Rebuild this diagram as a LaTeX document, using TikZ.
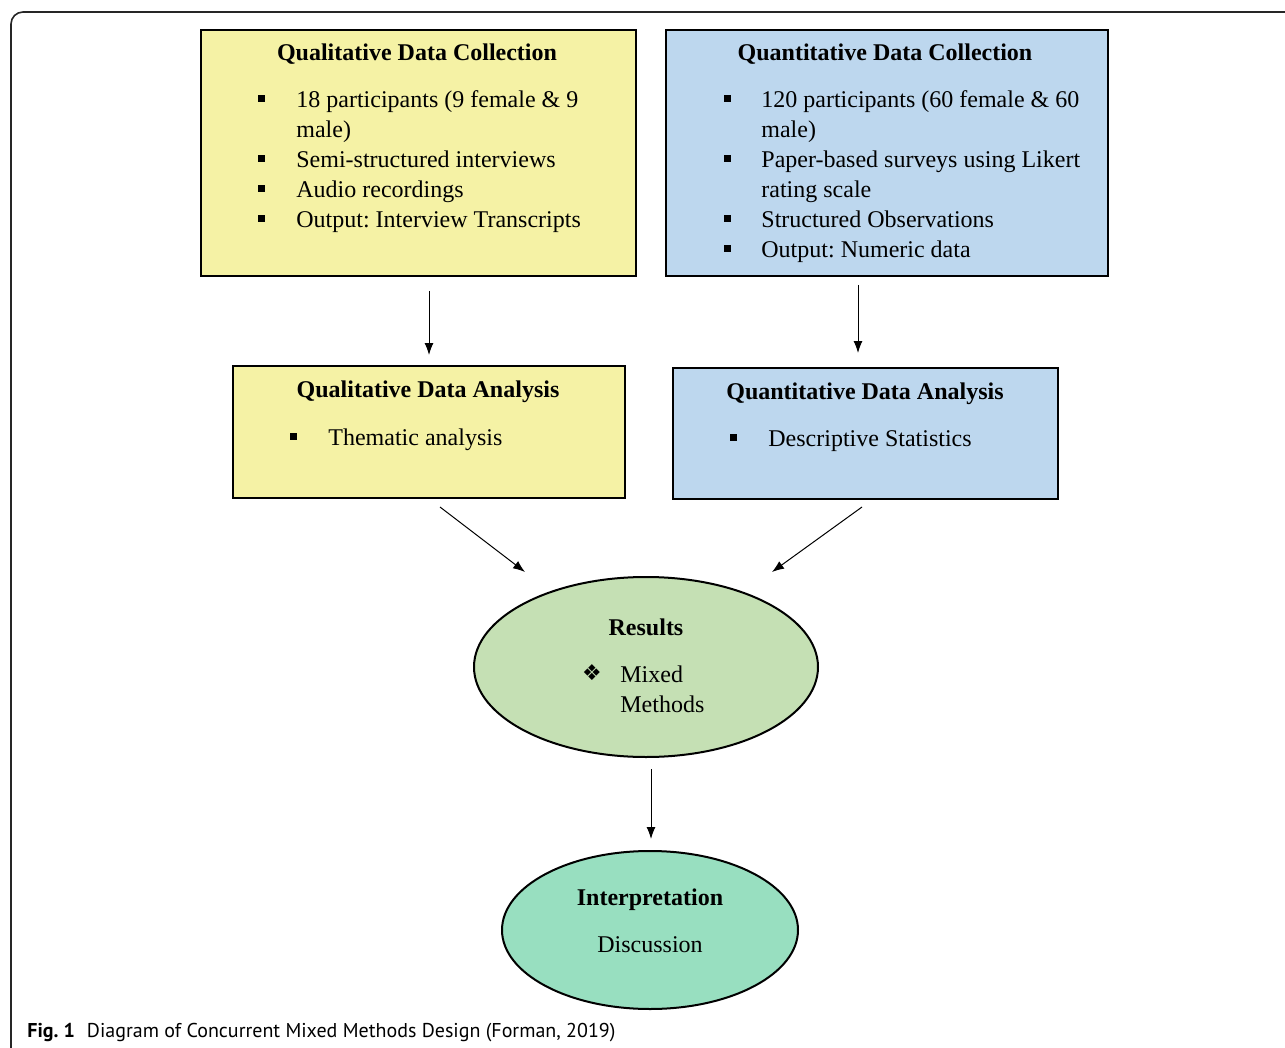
\documentclass[tikz,border=0pt,12pt]{standalone}
\usepackage{fontspec}
\setmainfont{Liberation Serif}
\newfontfamily\capfont{PT Sans}
\newfontfamily\symfont{DejaVu Sans}
\usetikzlibrary{arrows.meta,shapes.geometric}
\frenchspacing
\definecolor{qualyellow}{RGB}{245,242,165}
\definecolor{quantblue}{RGB}{189,215,238}
\definecolor{resgreen}{RGB}{197,224,180}
\definecolor{intgreen}{RGB}{152,223,192}
\tikzset{
  box/.style={draw, line width=1pt, anchor=north west, inner sep=0pt},
  oval/.style={ellipse, draw, line width=1pt, inner sep=0pt},
  title/.style={anchor=base, inner sep=0pt, font=\bfseries},
  txt/.style={anchor=base west, inner sep=0pt},
  bul/.style={fill, minimum size=3.5pt, inner sep=0pt},
  arr/.style={-{Latex[length=6pt,width=4.5pt]}, line width=0.5pt}
}
\begin{document}
\begin{tikzpicture}[x=0.5pt,y=-0.5pt]
\useasboundingbox (0,0) rectangle (1285,1048);
% frame of the figure
\draw[line width=0.8pt, black!85, rounded corners=6pt] (11,1048) -- (11,12) -- (1285,12);

% boxes
\node[box, fill=qualyellow, minimum width=217.5pt, minimum height=123pt] (qlcol) at (200,29) {};
\node[box, fill=quantblue, minimum width=221pt, minimum height=123pt] (qncol) at (665,29) {};
\node[box, fill=qualyellow, minimum width=196pt, minimum height=66pt] (qlana) at (232,365) {};
\node[box, fill=quantblue, minimum width=192.5pt, minimum height=65.5pt] (qnana) at (672,367) {};
\node[oval, fill=resgreen, minimum width=172pt, minimum height=90pt] (res) at (646,667) {};
\node[oval, fill=intgreen, minimum width=148pt, minimum height=79pt] (intp) at (650,930) {};

% qualitative data collection
\node[title] at (417,61) {Qualitative Data Collection};
\foreach \ypos/\line in {108/{18 participants (9 female \& 9},
  138/{male)}, 168/{Semi-structured interviews},
  198/{Audio recordings}, 228/{Output: Interview Transcripts}}
  \node[txt] at (296,\ypos) {\line};
\foreach \ypos in {99,159,189,219}
  \node[bul] at (261,\ypos) {};

% quantitative data collection
\node[title] at (885,61) {Quantitative Data Collection};
\foreach \ypos/\line in {108/{120 participants (60 female \& 60},
  138/{male)}, 168/{Paper-based surveys using Likert},
  198/{rating scale}, 228/{Structured Observations},
  258/{Output: Numeric data}}
  \node[txt] at (761,\ypos) {\line};
\foreach \ypos in {99,159,219,249}
  \node[bul] at (727,\ypos) {};

% analysis
\node[title] at (428,397) {Qualitative Data Analysis};
\node[bul] at (293,436) {};
\node[txt] at (328,445) {Thematic analysis};
\node[title] at (865,399) {Quantitative Data Analysis};
\node[bul] at (733,437) {};
\node[txt] at (768,446) {Descriptive Statistics};

% results
\node[title] at (646,635) {Results};
\node[anchor=base, inner sep=0pt] at (592,680) {\symfont\small ❖};
\node[txt] at (620,682) {Mixed};
\node[txt] at (620,712) {Methods};

% interpretation
\node[title] at (650,905) {Interpretation};
\node[anchor=base, inner sep=0pt] at (650,952) {Discussion};

% connectors
\coordinate (l1) at (440,507);
\coordinate (l2) at (525,572);
\coordinate (r1) at (862,507);
\coordinate (r2) at (772,572);
\draw[arr, shorten <=7pt, shorten >=5pt] (qlana.north |- qlcol.south) -- (qlana.north);
\draw[arr, shorten <=5pt, shorten >=7pt] (858,275) -- (858,367);
\draw[arr] (l1) -- (l2);
\draw[arr] (r1) -- (r2);
\draw[arr, shorten <=5.5pt, shorten >=5.5pt] (res.south) ++(5,0) coordinate (rs) -- (rs |- intp.north);

% caption
\node[anchor=base west, inner sep=0pt] (cap) at (27,1037)
  {\capfont\fontsize{10pt}{12pt}\selectfont\textbf{Fig. 1}\hspace{0.6em}Diagram of Concurrent Mixed Methods Design (Forman, 2019)};
\end{tikzpicture}
\end{document}
